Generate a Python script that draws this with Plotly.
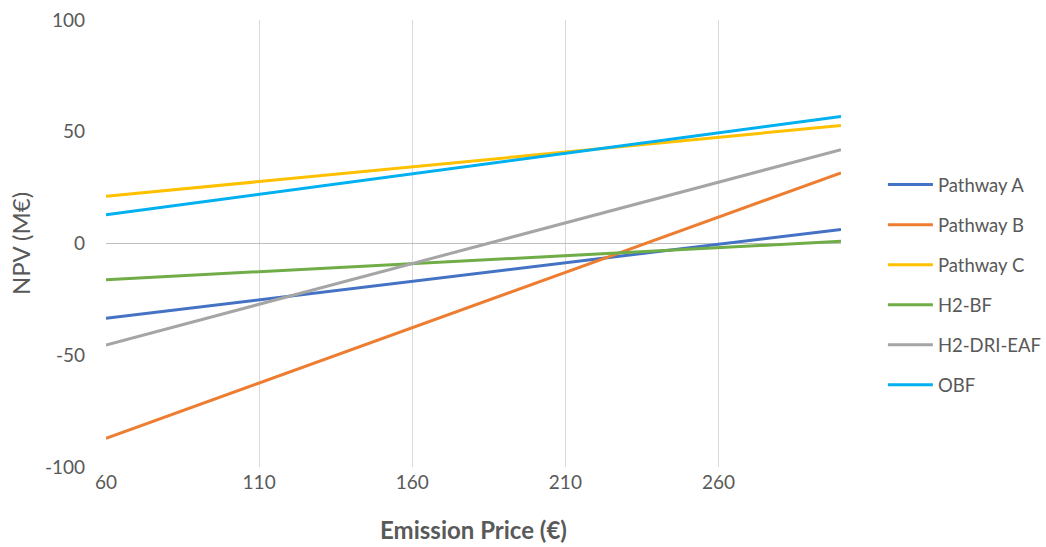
import plotly.graph_objects as go

# Emission price (€) at the two ends of the sensitivity range
emission_price = [60, 300]

# NPV (M€) for each route at those emission prices
pathway_a = [-33.5, 6.3]
pathway_b = [-87.2, 31.6]
pathway_c = [21.1, 52.8]
h2_bf = [-16.2, 1.0]
h2_dri_eaf = [-45.4, 42.0]
obf = [12.9, 56.8]

series = [
    ("Pathway A", pathway_a, "#4472C4"),
    ("Pathway B", pathway_b, "#ED7D31"),
    ("Pathway C", pathway_c, "#FFC000"),
    ("H2-BF", h2_bf, "#70AD47"),
    ("H2-DRI-EAF", h2_dri_eaf, "#A5A5A5"),
    ("OBF", obf, "#00B0F0"),
]

x_ticks = [60, 110, 160, 210, 260]
y_ticks = [-100, -50, 0, 50, 100]
y_tick_labels = ["-100", "-50", "0", "50", "100"]

fig = go.Figure()
for name, values, color in series:
    fig.add_trace(go.Scatter(
        x=emission_price, y=values, mode="lines", name=name,
        legendgroup=name,
        line=dict(color=color, width=3),
    ))

font_family = "Lato, 'Open Sans', sans-serif"
fig.update_layout(
    width=1046, height=547,
    margin=dict(l=106, r=205, t=20, b=80, autoexpand=False),
    paper_bgcolor="white", plot_bgcolor="white",
    font=dict(family=font_family, color="#595959", size=19),
    legend=dict(
        x=1.057, y=0.407, xanchor="left", yanchor="middle",
        font=dict(size=18.5, color="#595959"),
        tracegroupgap=13, itemwidth=45,
    ),
    xaxis=dict(
        range=[60, 300], tickvals=x_ticks,
        showgrid=True, gridcolor="#D9D9D9", gridwidth=1,
        zeroline=False, showline=False, ticks="",
        ticklabelstandoff=2,
        tickfont=dict(size=19, color="#595959"),
        title=dict(text="<b>Emission Price (€)</b>", font=dict(size=24, color="#595959"), standoff=30),
    ),
    yaxis=dict(
        range=[-100, 100], tickvals=y_ticks, ticktext=y_tick_labels,
        showgrid=False, zeroline=True, zerolinecolor="#BFBFBF", zerolinewidth=1,
        showline=False, ticks="", ticklabelstandoff=20,
        tickfont=dict(size=19, color="#595959"),
        title=dict(text="NPV (M€)", font=dict(size=24, color="#595959"), standoff=7),
    ),
)

fig.write_html("out.html")
